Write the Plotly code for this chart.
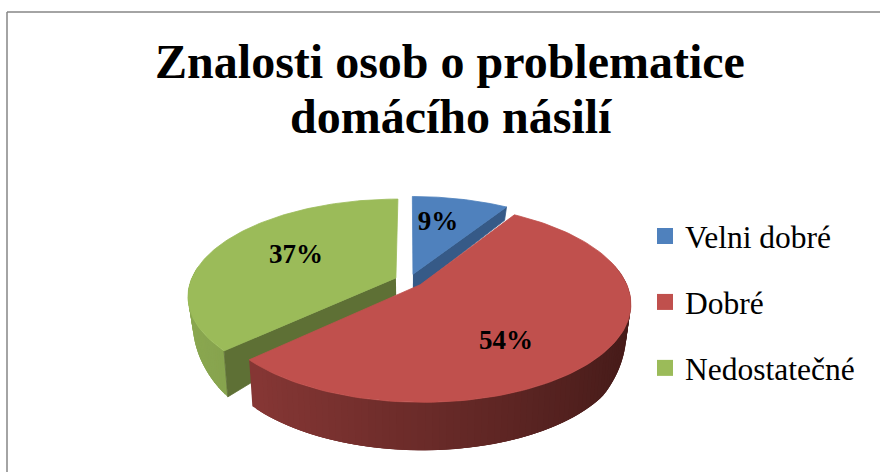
import numpy as np
import plotly.graph_objects as go

categories = ["Velni dobré", "Dobré", "Nedostatečné"]
values = [9, 54, 37]
top_colors = ["#4F81BD", "#C0504D", "#9BBB59"]
cut_colors = ["#365A87", "#8E3B39", "#5E7035"]
rim_light = [(60, 95, 140), (146, 60, 58), (138, 167, 80)]
rim_dark = [(50, 80, 120), (72, 28, 26), (110, 135, 62)]
label_x = [438, 506, 296]
label_y = [223, 342, 256]

TITLE_LINES = ["Znalosti osob o problematice", "domácího násilí"]
FONT = "Liberation Serif"

# projection of the tilted pie onto the page
CX, CY, A, B, P, EXPLODE = 409, 280.5, 205, 94.2, 0.184, 0.07


def project(u, v):
    w = 1 - P * v
    return CX + A * u / w, CY + B * v / w


def depth(v):
    return np.interp(v, [-1, 0, 0.2, 0.65, 1.05], [13, 17, 25, 46, 48])


def lower(u, v):
    x, y = project(u, v)
    return CX + (x - CX) * 0.98, y + depth(v)


def rgb(c):
    return "rgb(%d,%d,%d)" % tuple(int(round(k)) for k in c)


fig = go.Figure()
fractions = np.array(values) / sum(values)
ends = np.cumsum(fractions)
starts = ends - fractions


def poly(xs, ys, color, name=None, lw=0.8):
    fig.add_trace(go.Scatter(x=xs, y=ys, mode="lines", fill="toself", fillcolor=color,
                             line=dict(color=color, width=lw), showlegend=False,
                             hoverinfo="skip", name=name))


def slice_geometry(i):
    mid = 2 * np.pi * (starts[i] + ends[i]) / 2
    ou, ov = EXPLODE * np.sin(mid), -EXPLODE * np.cos(mid)
    th = np.linspace(2 * np.pi * starts[i], 2 * np.pi * ends[i], 120)
    return ou, ov, ou + np.sin(th), ov - np.cos(th)


def draw_slice(i):
    ou, ov, us, vs = slice_geometry(i)
    xt, yt = project(us, vs)
    xb, yb = lower(us, vs)
    n = len(us)
    # outer rim: overlapping bands painted one over the next carry the shading
    for k in range(n - 1):
        if vs[k] < -0.1 and vs[k + 1] < -0.1:
            continue
        t = np.clip((us[k] + 1) / 1.9, 0, 1)
        col = np.array(rim_light[i]) * (1 - t) + np.array(rim_dark[i]) * t
        j = min(k + 3, n - 1) if i == 2 else min(k + 1, n - 1)
        a, b = (k, j) if i != 1 else (max(k - 2, 0), k + 1)
        poly([xt[a], xt[b], xb[b], xb[a]], [yt[a], yt[b], yb[b], yb[a]], rgb(col), lw=0)
    ax, ay = project(ou, ov)
    bx, by = lower(ou, ov)
    if i == 0:
        poly([ax, xt[-1], xb[-1], bx], [ay, yt[-1], yb[-1], by], cut_colors[i])
    if i == 2:
        poly([ax, xt[0], xb[0], bx], [ay, yt[0], yb[0], by], cut_colors[i])
    poly([ax, *xt, ax], [ay, *yt, ay], top_colors[i], categories[i])


for i in [0, 2, 1]:
    draw_slice(i)

fig.add_trace(go.Scatter(x=label_x, y=label_y, mode="text", text=[f"{v}%" for v in values],
                         texttemplate="<b>%{text}</b>",
                         textposition="middle center", showlegend=False, hoverinfo="skip",
                         textfont=dict(family=FONT, size=27, color="#000000")))

for name, color in zip(categories, top_colors):
    fig.add_trace(go.Scatter(x=[None], y=[None], mode="markers", name=name, legendgroup=name,
                             marker=dict(symbol="square", size=16, color=color)))

fig.update_layout(
    width=880, height=472, autosize=False,
    margin=dict(l=0, r=0, t=0, b=0),
    paper_bgcolor="#FFFFFF", plot_bgcolor="#FFFFFF",
    xaxis=dict(range=[0, 880], visible=False, fixedrange=True),
    yaxis=dict(range=[472, 0], visible=False, fixedrange=True),
    title=dict(text="<b>" + TITLE_LINES[0] + "</b>", x=450 / 880, xanchor="center",
               y=1 - 78 / 472, yanchor="bottom",
               font=dict(family=FONT, size=48, color="#000000")),
    annotations=[dict(text="<b>" + TITLE_LINES[1] + "</b>", xref="x", yref="y", x=451, y=133,
                      xanchor="center", yanchor="bottom", showarrow=False, yshift=-12,
                      font=dict(family=FONT, size=48, color="#000000"))],
    legend=dict(x=645 / 880, xanchor="left", y=1 - 209 / 472, yanchor="top",
                font=dict(family=FONT, size=31.5, color="#000000"),
                tracegroupgap=22, itemsizing="trace", bgcolor="rgba(0,0,0,0)"),
    shapes=[
        dict(type="line", xref="x", yref="y", x0=7, y0=12, x1=880, y1=12,
             line=dict(color="#868686", width=1.5)),
        dict(type="line", xref="x", yref="y", x0=7, y0=12, x1=7, y1=472,
             line=dict(color="#868686", width=1.5)),
    ],
)

fig.write_html("out.html", config={"displayModeBar": False},
               post_script="document.body.style.margin='0';")
